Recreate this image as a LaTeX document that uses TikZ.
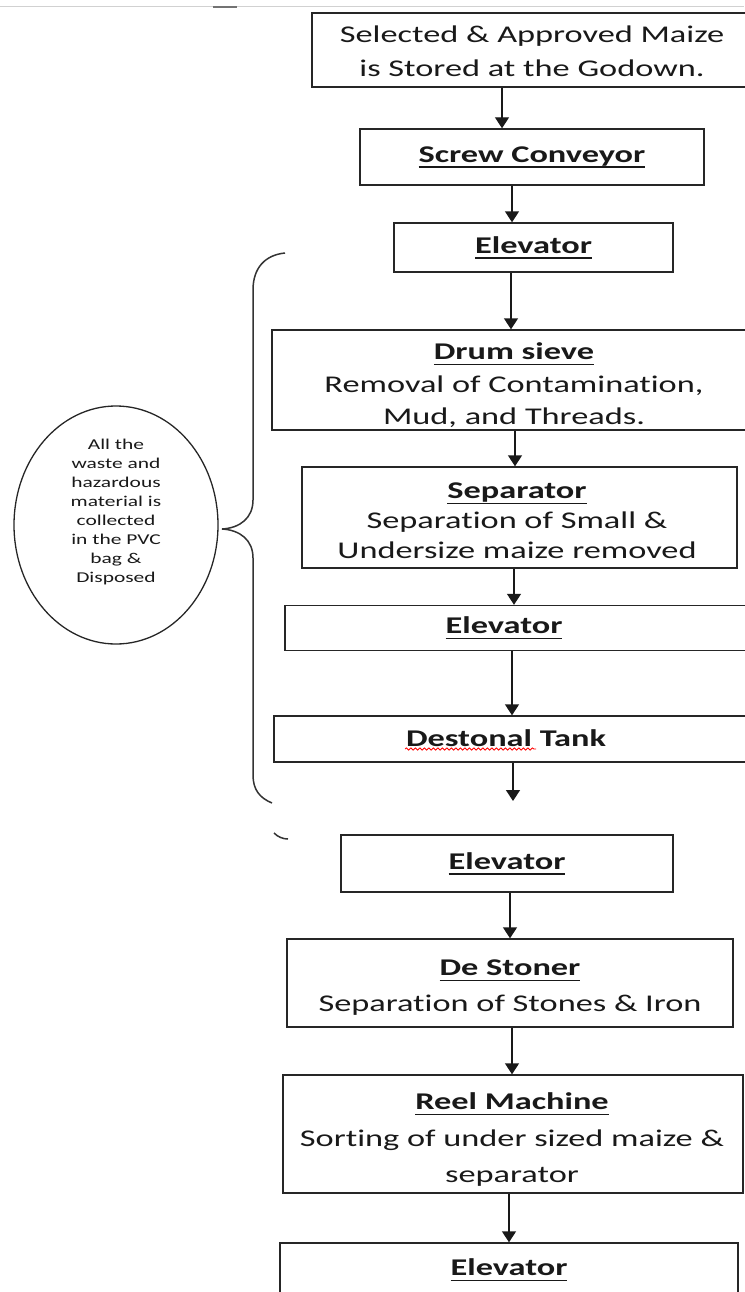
\documentclass[tikz,border=0pt]{standalone}
\usepackage{fontspec}
\setmainfont{Carlito}[FakeStretch=1.43, Ligatures=NoCommon]
\usetikzlibrary{arrows.meta,shapes.geometric,decorations.pathmorphing}
\newsavebox{\ttlbox}
\newcommand{\ttl}[1]{\sbox{\ttlbox}{\textbf{#1}}\rlap{\rule[-5.5pt]{\wd\ttlbox}{1.4pt}}\usebox{\ttlbox}}
\begin{document}
\begin{tikzpicture}[x=1pt,y=-1pt,
  box/.style={draw=black!85, line width=1.4pt, inner sep=0pt, align=center,
    text=black!90, font=\fontsize{24}{34}\selectfont},
  lbl/.style={inner sep=0pt, align=center, text=black!90, font=\fontsize{24}{34}\selectfont},
  arr/.style={draw=black!90, line width=1.4pt, -{Triangle[width=14pt,length=11pt]}},
  brace/.style={draw=black!80, line width=1.5pt},
  bag/.style={draw=black!85, line width=1.3pt, ellipse, inner sep=0pt},
  bagtext/.style={inner sep=0pt, align=center, text=black!90, font=\fontsize{15}{19.1}\selectfont}
]
\useasboundingbox (0,0) rectangle (744,1292);
% page header line
\draw[black!18, line width=1pt] (0,7) -- (744,7);
\draw[black!55, line width=1.8pt] (213,7) -- (237,7);

% boxes
\node[box, minimum width=440, minimum height=74] (top) at (532,50) {};
\node[lbl] (topT) at (532,51.5) {Selected \& Approved Maize\\is Stored at the Godown.};
\node[box, minimum width=344, minimum height=56] (screw) at (532,157) {\ttl{Screw Conveyor}};
\node[box, minimum width=279, minimum height=49] (elevA) at (533.5,247.5) {\ttl{Elevator}};
\node[box, minimum width=484, minimum height=100] (drum) at (514,380) {};
\node[lbl, font=\fontsize{24}{32.5}\selectfont] (drumT) at (514,385.5)
  {\ttl{Drum sieve}\\Removal of Contamination,\\Mud, and Threads.};
\node[box, minimum width=435, minimum height=101] (sep) at (519.5,517.5) {};
\node[lbl, font=\fontsize{24}{30}\selectfont] (sepT) at (517,521)
  {\ttl{Separator}\\Separation of Small \&\\Undersize maize removed};
\node[box, minimum width=475, minimum height=45] (elevB) at (522.5,628) {};
\node[lbl] (elevBt) at (504,628) {\ttl{Elevator}};
\node[box, minimum width=486, minimum height=46] (dest) at (517,739) {};
\node[lbl] (destt) at (506,738) {\textbf{Destonal Tank}};
\draw[red, line width=0.8pt, decorate, decoration={snake, amplitude=1.1pt, segment length=4.5pt}]
  (405,749) -- (536,749);
\coordinate (gap) at (513,801);
\node[box, minimum width=332, minimum height=57] (elevC) at (507,863.5) {\ttl{Elevator}};
\node[box, minimum width=446, minimum height=88] (ston) at (510,983) {};
\node[lbl, font=\fontsize{24}{36}\selectfont] (stonT) at (510,987.5)
  {\ttl{De Stoner}\\Separation of Stones \& Iron};
\node[box, minimum width=460, minimum height=118] (reel) at (513,1134) {};
\node[lbl, font=\fontsize{24}{36.5}\selectfont] (reelT) at (512,1139.5)
  {\ttl{Reel Machine}\\Sorting of under sized maize \&\\separator};
\node[box, minimum width=458, minimum height=54] (elevD) at (509,1270) {\ttl{Elevator}};

% connectors
\draw[arr] (top.south -| 502,0) -- (screw.north -| 502,0);
\draw[arr] (screw.south -| 512,0) -- (elevA.north -| 512,0);
\draw[arr] (elevA.south -| 511,0) -- (drum.north -| 511,0);
\draw[arr] (drum.south -| 515,0) -- (sep.north -| 515,0);
\draw[arr] (sep.south -| 514,0) -- (elevB.north -| 514,0);
\draw[arr] (elevB.south -| 512,0) -- (dest.north -| 512,0);
\draw[arr] (dest.south -| 513,0) -- (gap);
\draw[arr] (elevC.south -| 510,0) -- (ston.north -| 510,0);
\draw[arr] (ston.south -| 512,0) -- (reel.north -| 512,0);
\draw[arr] (reel.south -| 509,0) -- (elevD.north -| 509,0);

% brace
\draw[brace] (285,253) .. controls (265,255) and (253,268) .. (253,290) -- (253,500)
  .. controls (253,518) and (240,528) .. (222,529)
  .. controls (240,530) and (253,540) .. (253,558) -- (253,775)
  .. controls (253,790) and (260,798) .. (272,803);
\draw[brace] (274,833) .. controls (278,837) and (283,839) .. (288,839);

% waste ellipse
\node[bag, minimum width=204, minimum height=238] (bagE) at (116,525) {};
\node[bagtext] (bagT) at (116,512)
  {All the\\waste and\\hazardous\\material is\\collected\\in the PVC\\bag \&\\Disposed};
\end{tikzpicture}
\end{document}
